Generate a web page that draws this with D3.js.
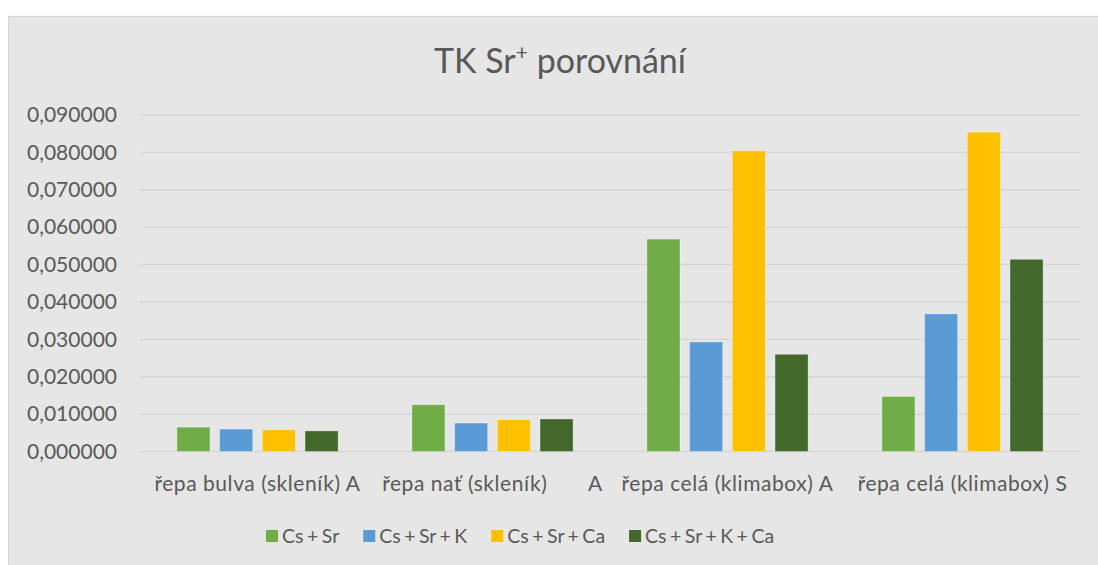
<!DOCTYPE html>
<html>
<head>
<meta charset="utf-8">
<script src="https://cdn.jsdelivr.net/npm/d3@7"></script>
<style>
  html, body { margin: 0; padding: 0; background: #ffffff; }
  svg { display: block; font-family: Lato, "Open Sans", sans-serif; }
  .lbl { white-space: pre; }
</style>
</head>
<body>
<svg id="chart" width="1098" height="565"></svg>
<script>
// Categories on the x axis
const categories = [
  "řepa bulva (skleník) A",
  "řepa nať (skleník)       A",
  "řepa celá (klimabox) A",
  "řepa celá (klimabox) S"
];

// Series names and colours
const seriesNames = ["Cs + Sr", "Cs + Sr + K", "Cs + Sr + Ca", "Cs + Sr + K + Ca"];
const seriesColors = ["#70ad47", "#5b9bd5", "#ffc000", "#43682b"];

// Values per series, one per category
const csSr      = [0.0065, 0.0125, 0.0568, 0.0147];
const csSrK     = [0.0060, 0.0076, 0.0293, 0.0368];
const csSrCa    = [0.0058, 0.0085, 0.0804, 0.0854];
const csSrKCa   = [0.0055, 0.0087, 0.0260, 0.0514];
const seriesValues = [csSr, csSrK, csSrCa, csSrKCa];

// Y axis ticks
const yTicks = [0, 0.01, 0.02, 0.03, 0.04, 0.05, 0.06, 0.07, 0.08, 0.09];

const svg = d3.select("#chart");
const textColor = "#595959";

// Chart panel
svg.append("rect")
  .attr("x", 8.5).attr("y", 16.5)
  .attr("width", 1100).attr("height", 560)
  .attr("fill", "#e6e6e6")
  .attr("stroke", "#d6d6d6").attr("stroke-width", 1.2);

const plot = { left: 140, right: 1080, top: 115, bottom: 451.5 };

const y = d3.scaleLinear().domain([0, 0.09]).range([plot.bottom, plot.top]);
const x0 = d3.scaleBand().domain(categories).range([plot.left, plot.right]).padding(0);
const x1 = d3.scaleBand().domain(seriesNames).range([0, x0.bandwidth()])
  .paddingInner(0.227).paddingOuter(0.865);

// Gridlines
svg.append("g").selectAll("line").data(yTicks).join("line")
  .attr("x1", plot.left).attr("x2", plot.right)
  .attr("y1", d => y(d)).attr("y2", d => y(d))
  .attr("stroke", "#d5d5d5").attr("stroke-width", 1.4);

// Y axis labels
const fmt = v => v.toFixed(6).replace(".", ",");
const yAxis = d3.axisLeft(y).tickValues(yTicks).tickFormat(fmt).tickSize(0).tickPadding(0);
const yg = svg.append("g").attr("transform", `translate(117,0)`).call(yAxis);
yg.select(".domain").remove();
yg.selectAll("text")
  .attr("fill", textColor)
  .style("font-family", "Lato, sans-serif")
  .style("font-size", "21px");

// Bars
const rows = categories.map((c, i) => ({ cat: c, vals: seriesNames.map((s, j) => ({ s, j, v: seriesValues[j][i] })) }));
svg.append("g").selectAll("g").data(rows).join("g")
  .attr("transform", d => `translate(${x0(d.cat)},0)`)
  .selectAll("rect").data(d => d.vals).join("rect")
  .attr("x", d => x1(d.s))
  .attr("width", x1.bandwidth())
  .attr("y", d => y(d.v))
  .attr("height", d => y(0) - y(d.v))
  .attr("fill", d => seriesColors[d.j])
  .attr("stroke", "rgba(255,255,255,0.3)")
  .attr("stroke-width", 1);

// Category labels
svg.append("g").selectAll("text").data(categories).join("text")
  .attr("class", "lbl")
  .attr("x", d => x0(d) + x0.bandwidth() / 2)
  .attr("y", 491)
  .attr("text-anchor", "middle")
  .attr("fill", textColor)
  .style("font-size", "21px")
  .style("letter-spacing", "0.55px")
  .text(d => d);

// Title with superscript
const title = svg.append("text")
  .attr("x", 560).attr("y", 72.5)
  .attr("text-anchor", "middle")
  .attr("fill", textColor)
  .style("font-size", "34px");
title.append("tspan").text("TK Sr");
title.append("tspan").attr("dy", -13).style("font-size", "21px").text("+");
title.append("tspan").attr("dy", 13).text(" porovnání");

// Legend
const legend = svg.append("g");
let lx = 266;
seriesNames.forEach((name, j) => {
  legend.append("rect")
    .attr("x", lx).attr("y", 530)
    .attr("width", 12).attr("height", 12)
    .attr("fill", seriesColors[j]);
  const t = legend.append("text")
    .attr("x", lx + 16).attr("y", 543)
    .attr("fill", textColor)
    .style("font-size", "19.5px")
    .style("word-spacing", "-1.5px")
    .text(name);
  lx += 16 + t.node().getComputedTextLength() + 24;
});
</script>
</body>
</html>
